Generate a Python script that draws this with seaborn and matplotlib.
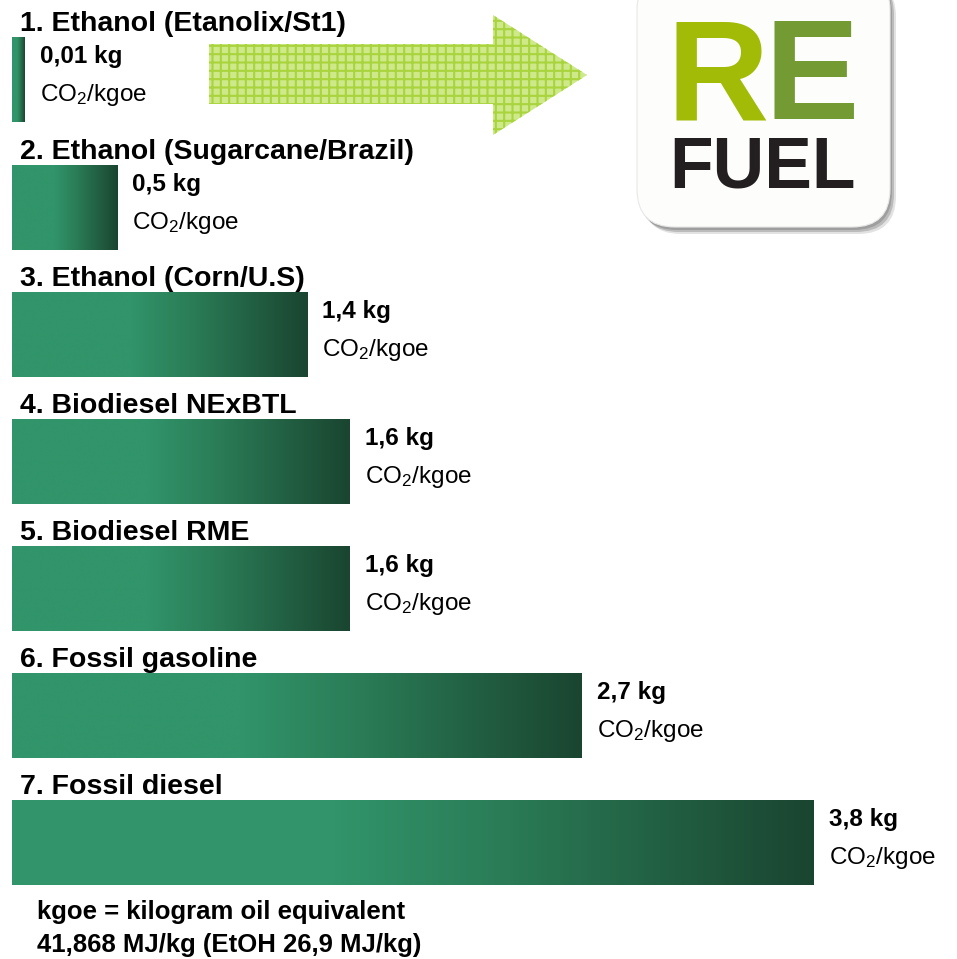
import numpy as np
import pandas as pd
import matplotlib
matplotlib.use("Agg")
import matplotlib.pyplot as plt
import seaborn as sns
from matplotlib.patches import Polygon, FancyBboxPatch
from matplotlib.colors import LinearSegmentedColormap

# ---- data ----
fuels = [
    "1. Ethanol (Etanolix/St1)",
    "2. Ethanol (Sugarcane/Brazil)",
    "3. Ethanol (Corn/U.S)",
    "4. Biodiesel NExBTL",
    "5. Biodiesel RME",
    "6. Fossil gasoline",
    "7. Fossil diesel",
]
co2_kg = [0.01, 0.5, 1.4, 1.6, 1.6, 2.7, 3.8]
unit_label = "CO$_2$/kgoe"
footnote_lines = ["kgoe = kilogram oil equivalent", "41,868 MJ/kg (EtOH 26,9 MJ/kg)"]
logo_top = ["R", "E"]
logo_bottom = "FUEL"

# ---- style ----
sns.set_theme(style="white")
plt.rcParams["font.family"] = ["Liberation Sans", "DejaVu Sans"]
plt.rcParams["mathtext.fontset"] = "custom"
plt.rcParams["mathtext.rm"] = "Liberation Sans"
plt.rcParams["mathtext.it"] = "Liberation Sans"
plt.rcParams["hatch.linewidth"] = 1.5

W, H = 957, 959
PT = 0.72  # points per pixel at dpi 100
MIN_VISIBLE = 0.06  # minimum drawn length so tiny values stay visible

df = pd.DataFrame({"fuel": fuels, "value": co2_kg})
df["shown"] = np.maximum(df["value"], MIN_VISIBLE)

fig = plt.figure(figsize=(W / 100, H / 100), dpi=100)
fig.patch.set_facecolor("white")
ax = fig.add_axes([0, 0, 1, 1])

sns.barplot(data=df, x="shown", y="fuel", orient="h", width=0.668,
            color="#2e8b5e", ax=ax)

px_per_kg = 211.0
step = 127.16
c0 = 79.9
ax.set_xlim(-12 / px_per_kg, (W - 12) / px_per_kg)
ax.set_ylim((H - c0) / step, -c0 / step)
ax.axis("off")

cmap = LinearSegmentedColormap.from_list(
    "grn",
    [(0.0, "#31956a"), (0.4, "#31946a"), (0.62, "#2a7b56"),
     (0.83, "#215d41"), (1.0, "#1a4530")])
grad = np.linspace(0, 1, 256).reshape(1, -1)

for patch, name, val in zip(ax.patches, df["fuel"], df["value"]):
    x0, y0 = patch.get_x(), patch.get_y()
    w, h = patch.get_width(), patch.get_height()
    patch.set_facecolor("none")
    patch.set_edgecolor("none")
    im = ax.imshow(grad, cmap=cmap, aspect="auto",
                   extent=[x0, x0 + w, y0 + h, y0], zorder=2,
                   interpolation="bilinear")
    im.set_clip_path(patch)
    # title above bar
    ax.annotate(name, xy=(x0, y0), xytext=(8 * PT, 6 * PT),
                textcoords="offset points", ha="left", va="baseline",
                fontsize=20.5, fontweight="bold", color="#000000")
    # value labels
    lbl = f"{val:g}".replace(".", ",") + " kg"
    ax.annotate(lbl, xy=(x0 + w, y0), xytext=(15 * PT, -26 * PT),
                textcoords="offset points", ha="left", va="baseline",
                fontsize=17.5, fontweight="bold", color="#000000")
    ax.annotate(unit_label, xy=(x0 + w, y0), xytext=(15 * PT, -64 * PT),
                textcoords="offset points", ha="left", va="baseline",
                fontsize=17.5, color="#000000")

ax.set_ylim((H - c0) / step, -c0 / step)

# ---- overlay in pixel coordinates ----
ov = fig.add_axes([0, 0, 1, 1], zorder=5)
ov.set_xlim(0, W)
ov.set_ylim(H, 0)
ov.axis("off")
ov.patch.set_alpha(0)

for i, line in enumerate(footnote_lines):
    ov.text(37, 919 + 33 * i, line, ha="left", va="baseline",
            fontsize=18.5, fontweight="bold", color="#000000")

arrow = Polygon([(209, 44), (493, 44), (493, 15), (587, 75), (493, 135),
                 (493, 104), (209, 104)], closed=True,
                facecolor="#cde98a", edgecolor="#a9d43e", lw=0, hatch="++")
ov.add_patch(arrow)

for dx, dy, a in [(6, 7, 0.25), (4, 5, 0.45), (2, 3, 0.6)]:
    ov.add_patch(FancyBboxPatch((637 + dx, -28 + dy), 253, 255,
                                boxstyle="round,pad=0,rounding_size=38",
                                facecolor="#8c8c8c", edgecolor="none", alpha=a))
box = FancyBboxPatch((637, -28), 253, 255,
                     boxstyle="round,pad=0,rounding_size=38",
                     facecolor="#fdfdfb", edgecolor="#e8e8e8", lw=0.8)
ov.add_patch(box)

ov.text(666, 119, logo_top[0], ha="left", va="baseline", fontsize=102,
        fontweight="bold", color="#a2bb07")
ov.text(765, 119, logo_top[1], ha="left", va="baseline", fontsize=102,
        fontweight="bold", color="#749a33")
ov.text(669, 187, logo_bottom, ha="left", va="baseline", fontsize=51.5,
        fontweight="bold", color="#231f20")

fig.savefig("out.png", dpi=100, facecolor="white")
